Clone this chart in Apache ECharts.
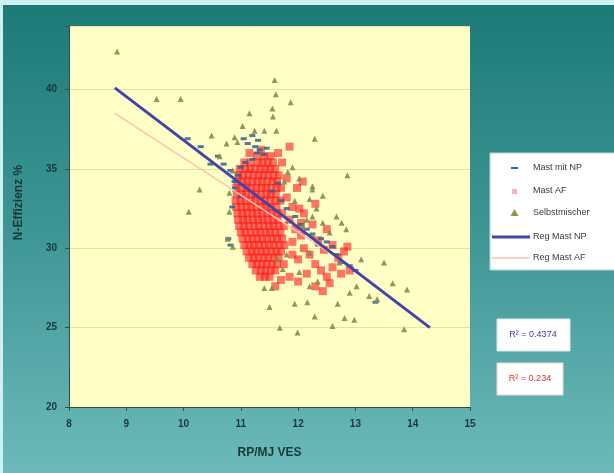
<!DOCTYPE html>
<html><head><meta charset="utf-8">
<script src="https://cdn.jsdelivr.net/npm/echarts@6/dist/echarts.min.js"></script>
<style>
html,body{margin:0;padding:0;background:#cdf1f1;}
#wrap{position:absolute;left:0;top:0;width:614px;height:473px;background:#cdf1f1;}
#bg{position:absolute;left:3px;top:5px;width:611px;height:468px;background:linear-gradient(180deg,#1d7a77 0%,#3b9492 45%,#6cbaba 100%);}
#c{position:absolute;left:0;top:0;width:614px;height:473px;}
</style>
</head><body><div id="wrap"><div id="bg"></div><div id="c"></div></div>
<script>
const xTicks=[8,9,10,11,12,13,14,15];
const yTicks=[20,25,30,35,40];
const yTop=44;
const xTitle='RP/MJ VES';
const yTitle='N-Effizienz %';
const seriesNames=['Mast mit NP','Mast AF','Selbstmischer','Reg Mast NP','Reg Mast AF'];
const r2Labels=['R² = 0.4374','R² = 0.234'];

const mastNP=[[10.07,36.9],[10.3,36.4],[10.47,35.3],[10.6,35.8],[10.7,35.3],[10.82,34.9],[10.89,34.2],[10.95,34.6],[11.05,36.9],[11.12,36.6],[11.2,37.1],[11.25,36.4],[11.3,36.8],[11.33,36.2],[11.4,35.9],[11.45,36.3],[11.2,35.6],[11.08,35.4],[11.0,35.1],[10.9,33.8],[11.0,33.3],[11.55,33.6],[11.7,33.0],[11.8,32.5],[11.95,32.0],[12.05,31.5],[12.15,31.2],[12.25,30.9],[12.4,30.6],[12.5,30.4],[12.6,30.1],[12.67,29.6],[12.74,29.1],[12.9,28.9],[13.0,28.6],[12.35,30.2],[11.65,34.1],[10.85,32.6],[10.82,30.2],[10.78,30.6],[13.35,26.6],[11.28,36.0]];

const mastAF=[
[11.28,35.8],[11.41,35.8],[11.52,35.8],
[11.06,35.4],[11.17,35.4],[11.3,35.4],[11.38,35.4],[11.47,35.4],[11.56,35.4],
[10.98,35.0],[11.08,35.0],[11.16,35.0],[11.25,35.0],[11.34,35.0],[11.43,35.0],[11.51,35.0],[11.6,35.0],
[10.96,34.6],[11.04,34.6],[11.13,34.6],[11.22,34.6],[11.31,34.6],[11.39,34.6],[11.48,34.6],[11.57,34.6],[11.66,34.6],
[10.94,34.2],[11.03,34.2],[11.11,34.2],[11.2,34.2],[11.29,34.2],[11.37,34.2],[11.46,34.2],[11.55,34.2],[11.63,34.2],
[10.92,33.8],[11.01,33.8],[11.1,33.8],[11.18,33.8],[11.27,33.8],[11.36,33.8],[11.44,33.8],[11.53,33.8],[11.62,33.8],[11.7,33.8],
[10.93,33.4],[11.02,33.4],[11.09,33.4],[11.19,33.4],[11.26,33.4],[11.35,33.4],[11.45,33.4],[11.52,33.4],[11.61,33.4],
[10.91,33.0],[11.0,33.0],[11.08,33.0],[11.17,33.0],[11.25,33.0],[11.34,33.0],[11.42,33.0],[11.51,33.0],[11.6,33.0],[11.69,33.0],
[10.92,32.6],[11.01,32.6],[11.1,32.6],[11.18,32.6],[11.27,32.6],[11.36,32.6],[11.43,32.6],[11.52,32.6],[11.62,32.6],
[10.94,32.2],[11.03,32.2],[11.11,32.2],[11.2,32.2],[11.28,32.2],[11.37,32.2],[11.46,32.2],[11.54,32.2],[11.63,32.2],[11.72,32.2],
[10.95,31.8],[11.04,31.8],[11.12,31.8],[11.21,31.8],[11.3,31.8],[11.38,31.8],[11.47,31.8],[11.56,31.8],[11.64,31.8],
[10.97,31.4],[11.06,31.4],[11.14,31.4],[11.23,31.4],[11.31,31.4],[11.4,31.4],[11.49,31.4],[11.57,31.4],[11.66,31.4],[11.75,31.4],
[11.0,31.0],[11.08,31.0],[11.17,31.0],[11.26,31.0],[11.34,31.0],[11.43,31.0],[11.51,31.0],[11.6,31.0],[11.69,31.0],
[11.03,30.6],[11.12,30.6],[11.2,30.6],[11.29,30.6],[11.37,30.6],[11.46,30.6],[11.55,30.6],[11.63,30.6],[11.72,30.6],
[11.06,30.2],[11.15,30.2],[11.23,30.2],[11.32,30.2],[11.41,30.2],[11.49,30.2],[11.58,30.2],[11.67,30.2],[11.76,30.2],
[11.1,29.8],[11.19,29.8],[11.27,29.8],[11.36,29.8],[11.44,29.8],[11.53,29.8],[11.62,29.8],[11.7,29.8],
[11.14,29.4],[11.23,29.4],[11.31,29.4],[11.4,29.4],[11.48,29.4],[11.57,29.4],[11.66,29.4],
[11.2,29.0],[11.28,29.0],[11.37,29.0],[11.45,29.0],[11.54,29.0],[11.63,29.0],
[11.26,28.6],[11.35,28.6],[11.43,28.6],[11.52,28.6],[11.6,28.6],
[11.33,28.2],[11.42,28.2],[11.5,28.2],
[11.8,33.2],[11.9,32.6],[11.85,31.8],[11.95,31.2],[12.05,30.8],[11.9,30.4],[12.1,30.0],[12.2,29.6],[12.0,29.3],[12.3,29.0],[12.4,28.6],[12.15,28.4],[12.5,28.2],[12.6,28.8],[12.7,29.4],[12.45,29.9],[12.35,30.5],[12.6,30.2],[12.8,29.8],[12.25,31.5],[12.1,32.2],[11.98,33.8],[12.3,32.8],[12.5,31.2],[12.75,28.4],[12.55,27.8],[12.3,27.6],[12.0,27.9],[11.85,28.2],[11.7,28.0],[11.6,27.6],[12.9,28.6],[12.43,27.3],[11.75,29.0],[11.9,29.6],[12.05,31.6],[11.8,34.4],[11.72,35.4],[11.65,36.0],[11.35,36.2],[11.15,36.0],[12.86,30.1],[12.08,34.2],[12.02,32.5],[11.85,36.4]
];

const selbst=[[8.84,42.4],[9.53,39.4],[9.95,39.4],[10.28,33.7],[10.09,32.3],[10.49,37.1],[11.59,40.6],[11.61,39.7],[11.87,39.2],[11.55,38.8],[11.56,38.3],[11.15,38.5],[11.03,37.7],[11.41,37.4],[11.62,37.4],[11.24,37.4],[10.89,37.0],[10.75,36.6],[10.94,36.7],[12.29,36.9],[10.63,35.8],[11.9,35.1],[12.86,34.6],[11.76,34.2],[11.82,34.8],[12.25,33.9],[12.43,33.3],[12.2,33.1],[12.32,32.5],[12.67,32.0],[12.76,31.6],[12.84,31.2],[12.43,31.6],[12.55,31.0],[12.15,31.8],[12.25,30.8],[12.08,31.4],[12.2,29.7],[11.8,29.6],[11.73,28.7],[12.02,28.5],[13.1,29.3],[13.5,29.1],[12.72,29.1],[11.41,27.5],[11.54,27.5],[11.5,26.3],[11.68,25.0],[11.99,24.7],[11.94,26.5],[12.16,26.6],[12.2,27.6],[12.34,27.9],[12.29,25.7],[12.6,25.1],[12.81,25.6],[12.98,25.5],[12.69,26.5],[12.9,27.2],[13.02,27.6],[13.24,27.0],[13.38,26.8],[13.65,27.8],[13.9,27.4],[13.85,24.9],[10.8,33.5],[10.8,32.3],[10.77,30.6],[10.86,30.1],[10.86,34.9],[12.02,34.4],[11.94,33.0],[12.25,33.7],[12.25,32.0],[11.64,29.3]];

const regNP=[[8.8,40.1],[14.3,25.0]];
const regAF=[[8.8,38.5],[12.9,28.9]];

const FONT='Liberation Sans, Arial, sans-serif';
const chart=echarts.init(document.getElementById('c'),null,{renderer:'canvas'});
const legRows=[168,191,213,237,258];
chart.setOption({
  backgroundColor:'transparent',
  animation:false,
  grid:{left:69,top:26,width:401,height:381,show:true,backgroundColor:'#ffffc6',borderWidth:0,
    containLabel:false,outerBoundsMode:'none'},
  xAxis:{type:'value',min:xTicks[0],max:xTicks[xTicks.length-1],interval:1,
    name:xTitle,nameLocation:'middle',nameGap:40,
    nameTextStyle:{fontFamily:FONT,fontSize:12,fontWeight:'bold',color:'#173838'},
    axisLine:{show:true,lineStyle:{color:'#3a4a4a',width:1}},
    axisTick:{show:true,length:4,lineStyle:{color:'#3a4a4a'}},
    axisLabel:{fontFamily:FONT,fontSize:10,fontWeight:'bold',color:'#173838',margin:12},
    splitLine:{show:false}},
  yAxis:{type:'value',min:yTicks[0],max:yTop,interval:5,
    name:yTitle,nameLocation:'middle',nameGap:44,nameRotate:90,
    nameTextStyle:{fontFamily:FONT,fontSize:12,fontWeight:'bold',color:'#173838',padding:[0,0,0,28]},
    axisLine:{show:true,lineStyle:{color:'#3a4a4a',width:1}},
    axisTick:{show:true,length:4,lineStyle:{color:'#3a4a4a'}},
    axisLabel:{fontFamily:FONT,fontSize:10,fontWeight:'bold',color:'#173838',margin:12,
      formatter:v=>yTicks.indexOf(v)>=0?String(v):''},
    splitLine:{show:true,lineStyle:{color:'#e2e2a4',width:1}}},
  series:[
    {name:seriesNames[1],type:'scatter',data:mastAF,symbol:'rect',symbolSize:8,
      itemStyle:{color:'#ff1a1a',opacity:0.6},z:2},
    {name:seriesNames[0],type:'scatter',data:mastNP,symbol:'rect',symbolSize:[6,3],
      itemStyle:{color:'#35608f',opacity:0.85},z:3},
    {name:seriesNames[2],type:'scatter',data:selbst,symbol:'triangle',symbolSize:6,
      itemStyle:{color:'#858c4e',opacity:0.9},z:3},
    {name:seriesNames[3],type:'line',data:regNP,symbol:'none',
      lineStyle:{color:'#4444a8',width:3},z:5},
    {name:seriesNames[4],type:'line',data:regAF,symbol:'none',
      lineStyle:{color:'#ffc0b8',width:1.5},z:4}
  ],
  graphic:[
    {type:'rect',shape:{x:490,y:153,width:130,height:117},style:{fill:'#ffffff',stroke:'#b0d8d8',lineWidth:1},z:10},
    {type:'rect',shape:{x:511,y:167,width:7,height:2},style:{fill:'#35608f'},z:11},
    {type:'rect',shape:{x:512,y:189,width:5,height:5},style:{fill:'#ffb4b4'},z:11},
    {type:'polygon',shape:{points:[[514.5,209],[518.5,216],[510.5,216]]},style:{fill:'#8c9a50'},z:11},
    {type:'line',shape:{x1:492,y1:237,x2:530,y2:237},style:{stroke:'#4444a8',lineWidth:3},z:11},
    {type:'line',shape:{x1:492,y1:258,x2:530,y2:258},style:{stroke:'#ffc0c0',lineWidth:1.5},z:11},
    ...seriesNames.map((n,i)=>({type:'text',x:533,y:legRows[i],z:11,
      style:{text:n,fontFamily:FONT,fontSize:9,fill:'#3a3a3a',verticalAlign:'middle'}})),
    {type:'rect',shape:{x:497,y:319,width:73,height:32},style:{fill:'#ffffff',stroke:'#d8e8f0',lineWidth:1},z:10},
    {type:'text',x:533,y:335,z:11,style:{text:r2Labels[0],fontFamily:FONT,fontSize:9,fill:'#3838b0',align:'center',verticalAlign:'middle'}},
    {type:'rect',shape:{x:497,y:363,width:66,height:32},style:{fill:'#ffffff',stroke:'#f0d8d8',lineWidth:1},z:10},
    {type:'text',x:530,y:379,z:11,style:{text:r2Labels[1],fontFamily:FONT,fontSize:9,fill:'#e03030',align:'center',verticalAlign:'middle'}}
  ]
});
</script></body></html>
